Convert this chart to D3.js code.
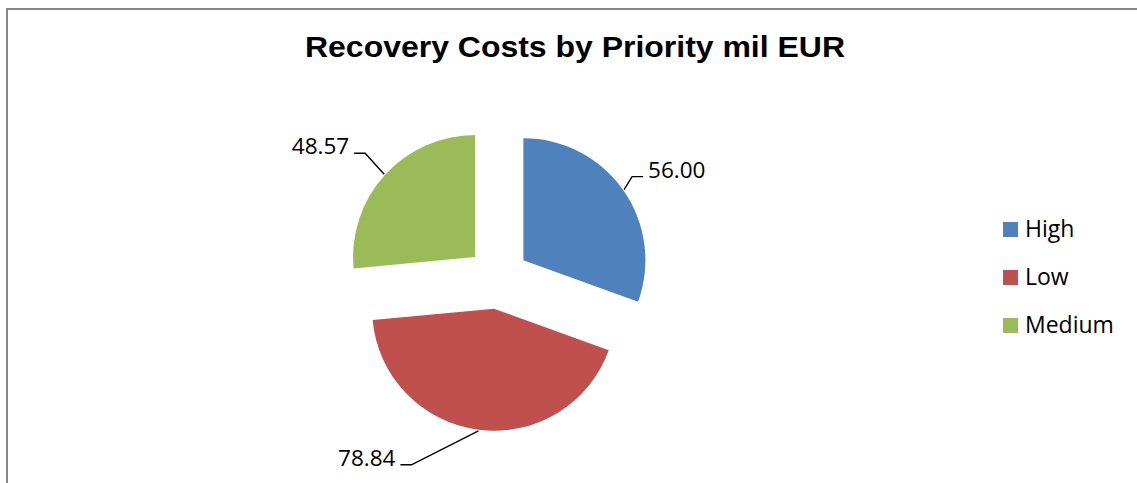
<!DOCTYPE html>
<html>
<head>
<meta charset="utf-8">
<script src="https://cdn.jsdelivr.net/npm/d3@7/dist/d3.min.js"></script>
<style>
  html, body { margin: 0; padding: 0; background: #ffffff; }
  svg { display: block; }
</style>
</head>
<body>
<svg id="chart" width="1137" height="483"></svg>
<script>
// Recovery costs per priority level (million EUR)
const categories = ["High", "Low", "Medium"];
const costs = [56.00, 78.84, 48.57];
const sliceColors = ["#4F81BD", "#C0504D", "#9BBB59"];
const titleText = "Recovery Costs by Priority mil EUR";

// Layout
const W = 1137, H = 483;
const cx = 498, cy = 278;
const radius = 122;
const explode = 31;
// leader-line elbow offset from the slice edge, and side the label sits on
const labelLayout = [
  { dx: 8,   dy: -13, side: 1 },
  { dx: -67, dy: 34,  side: -1 },
  { dx: -19, dy: -21, side: -1 }
];

const svg = d3.select("#chart");

// chart area frame
svg.append("rect")
  .attr("x", 7).attr("y", 9)
  .attr("width", W + 20).attr("height", H + 20)
  .attr("fill", "#ffffff")
  .attr("stroke", "#868686")
  .attr("stroke-width", 2);

// title
svg.append("text")
  .attr("x", 575).attr("y", 57)
  .attr("text-anchor", "middle")
  .attr("font-family", "'Liberation Sans', Arial, sans-serif")
  .attr("font-weight", "bold")
  .attr("font-size", 29)
  .attr("textLength", 540)
  .attr("lengthAdjust", "spacingAndGlyphs")
  .attr("fill", "#000")
  .text(titleText);

const data = categories.map((c, i) => ({ name: c, value: costs[i], color: sliceColors[i], layout: labelLayout[i] }));

const pie = d3.pie().sort(null).value(d => d.value);
const arc = d3.arc().innerRadius(0).outerRadius(radius);
const arcs = pie(data);

const g = svg.append("g").attr("transform", `translate(${cx},${cy})`);

const mid = a => (a.startAngle + a.endAngle) / 2;

const slices = g.selectAll("g.slice")
  .data(arcs)
  .join("g")
  .attr("class", "slice")
  .attr("transform", a => {
    const m = mid(a);
    return `translate(${Math.sin(m) * explode},${-Math.cos(m) * explode})`;
  });

slices.append("path")
  .attr("d", arc)
  .attr("fill", a => a.data.color);

// leader lines and value labels
slices.each(function (a) {
  const m = mid(a);
  const sel = d3.select(this);
  const p0 = [Math.sin(m) * (radius + 1), -Math.cos(m) * (radius + 1)];
  const L = a.data.layout;
  const p1 = [p0[0] + L.dx, p0[1] + L.dy];
  const p2 = [p1[0] + L.side * 11, p1[1]];
  sel.append("path")
    .attr("d", d3.line()([p0, p1, p2]))
    .attr("fill", "none")
    .attr("stroke", "#000")
    .attr("stroke-width", 1.4);
  sel.append("text")
    .attr("x", p2[0] + L.side * 5)
    .attr("y", p2[1] + 1)
    .attr("text-anchor", L.side > 0 ? "start" : "end")
    .attr("font-family", "'Open Sans', sans-serif")
    .attr("font-size", 22.5)
    .attr("fill", "#000")
    .text(d3.format(".2f")(a.data.value));
});

// legend
const legend = svg.append("g").attr("transform", "translate(1003,222)");
const items = legend.selectAll("g")
  .data(data)
  .join("g")
  .attr("transform", (d, i) => `translate(0,${i * 48})`);
items.append("rect")
  .attr("width", 15).attr("height", 15)
  .attr("fill", d => d.color);
items.append("text")
  .attr("x", 22).attr("y", 15)
  .attr("font-family", "'Open Sans', sans-serif")
  .attr("font-size", 23)
  .attr("fill", "#000")
  .text(d => d.name);
</script>
</body>
</html>
